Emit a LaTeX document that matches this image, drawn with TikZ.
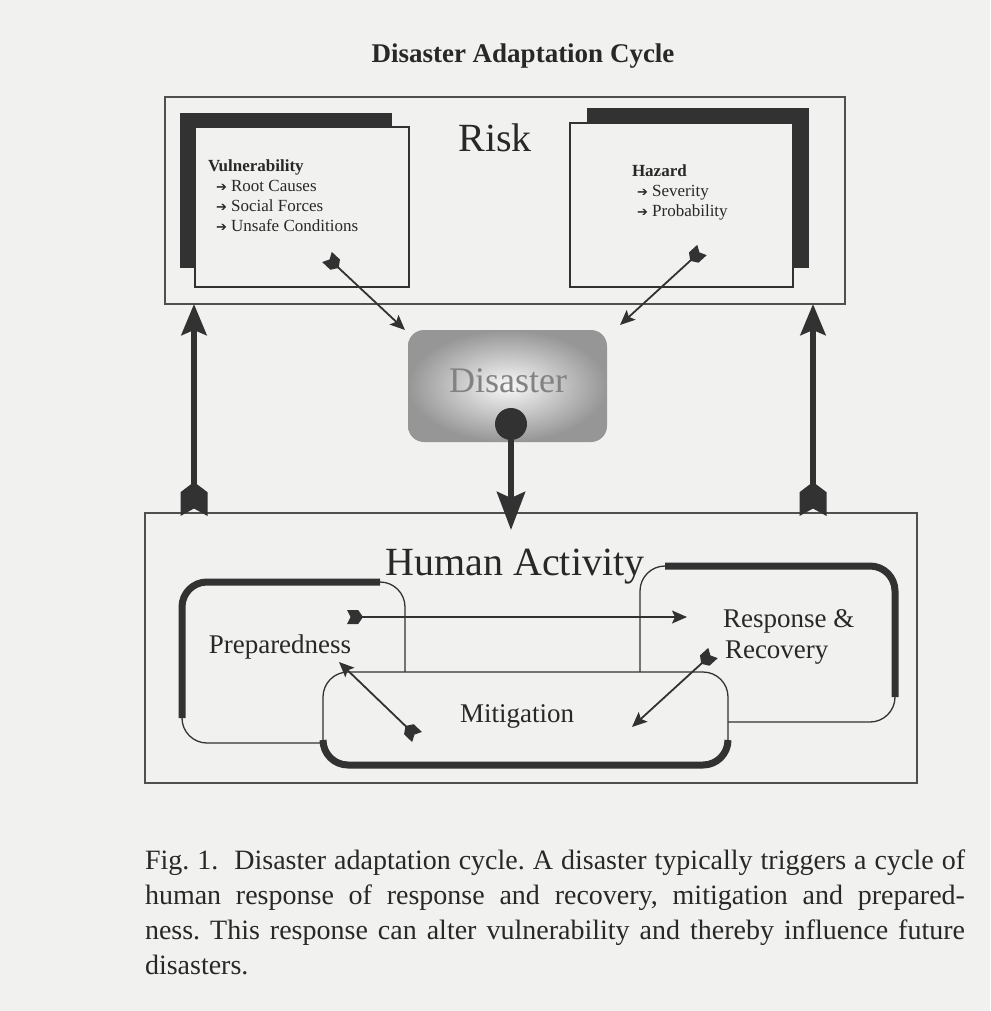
\documentclass[tikz,border=0pt]{standalone}
\usepackage{fontspec}
\setmainfont{Liberation Serif}
\newfontfamily\symfont{DejaVu Sans}
\usepackage{tikz}
\usetikzlibrary{positioning,arrows.meta,calc}
\definecolor{PaperGray}{RGB}{241,241,239}
\definecolor{InkDark}{RGB}{50,50,50}
\definecolor{InkMid}{RGB}{80,80,80}
\definecolor{InkText}{RGB}{40,40,40}
\definecolor{ShadeGray}{RGB}{150,150,150}
\definecolor{LabelGray}{RGB}{130,130,130}
\newcommand{\itemarrow}{{\symfont\fontsize{13}{13}\selectfont ➔}}

% fletched tail: notch at the outer end, point towards the line
\pgfdeclarearrow{
  name = Fletch,
  parameters = {\the\pgfarrowlength,\the\pgfarrowwidth},
  setup code = {
    \pgfarrowssettipend{0pt}
    \pgfarrowssetbackend{-\pgfarrowlength}
    \pgfarrowssetlineend{-.8\pgfarrowlength}
    \pgfarrowshullpoint{0pt}{.5\pgfarrowwidth}
    \pgfarrowshullpoint{0pt}{-.5\pgfarrowwidth}
    \pgfarrowshullpoint{-\pgfarrowlength}{0pt}
    \pgfarrowssavethe\pgfarrowlength
    \pgfarrowssavethe\pgfarrowwidth
  },
  drawing code = {
    \pgfpathmoveto{\pgfqpoint{0pt}{.5\pgfarrowwidth}}
    \pgfpathlineto{\pgfqpoint{-.7\pgfarrowlength}{.5\pgfarrowwidth}}
    \pgfpathlineto{\pgfqpoint{-\pgfarrowlength}{0pt}}
    \pgfpathlineto{\pgfqpoint{-.7\pgfarrowlength}{-.5\pgfarrowwidth}}
    \pgfpathlineto{\pgfqpoint{0pt}{-.5\pgfarrowwidth}}
    \pgfpathlineto{\pgfqpoint{-.22\pgfarrowlength}{0pt}}
    \pgfpathclose
    \pgfusepathqfill
  },
  defaults = {length=14pt, width=12pt}
}

\begin{document}
\begin{tikzpicture}[x=1pt,y=1pt,
    every node/.style={inner sep=0pt, outer sep=0pt, text=InkText},
    outerbox/.style={draw=InkMid, line width=2.5pt, fill=PaperGray, anchor=north west},
    shadowbar/.style={fill=InkDark, anchor=north west},
    card/.style={draw=InkDark, line width=1.8pt, fill=PaperGray, anchor=north west},
    cardtext/.style={align=left, anchor=north west, font=\fontsize{17}{20}\selectfont},
    roundbox/.style={draw=InkDark, line width=1.3pt, fill=PaperGray,
        rounded corners=25pt, anchor=north west},
    thickedge/.style={draw=InkDark, line width=7pt, rounded corners=25pt},
    disbox/.style={rounded corners=16pt, inner color=white!95!gray,
        outer color=ShadeGray, anchor=north west},
    big/.style={font=\fontsize{40}{40}\selectfont, anchor=base},
    mid/.style={font=\fontsize{27}{30}\selectfont},
    bigar/.style={draw=InkDark, line width=6pt,
        arrows={Fletch[length=34pt,width=27pt]-Stealth[length=31pt,width=25pt,inset=5pt]}},
    smallar/.style={draw=InkDark, line width=1.8pt,
        arrows={Fletch[length=16pt,width=14pt]-Stealth[length=15pt,width=13pt,inset=3pt]}},
  ]
  \useasboundingbox[fill=PaperGray] (0,0) rectangle (990,-1011);

  % title
  \node[font=\fontsize{27}{27}\selectfont\bfseries, anchor=base] (title) at (523,-63)
    {Disaster Adaptation Cycle};

  % RISK
  \node[outerbox, minimum width=680pt, minimum height=207pt] (risk) at (165,-97) {};
  \node[big] (risktxt) at (495,-152) {Risk};

  \node[shadowbar, minimum width=212pt, minimum height=155pt] (vshadow) at (180,-113) {};
  \node[card, minimum width=214pt, minimum height=160pt] (vuln) at (195,-127) {};
  \node[cardtext] (vtxt) at (208,-160) {\textbf{Vulnerability}\\
      \hspace*{8pt}\itemarrow\ Root Causes\\
      \hspace*{8pt}\itemarrow\ Social Forces\\
      \hspace*{8pt}\itemarrow\ Unsafe Conditions};

  \node[shadowbar, minimum width=222pt, minimum height=160pt] (hshadow) at (587,-108) {};
  \node[card, minimum width=223pt, minimum height=164pt] (haz) at (570,-123) {};
  \node[cardtext] (htxt) at (632,-165) {\textbf{Hazard}\\
      \hspace*{5pt}\itemarrow\ Severity\\
      \hspace*{5pt}\itemarrow\ Probability};

  % DISASTER
  \node[disbox, minimum width=199pt, minimum height=112pt] (dis) at (408,-330) {};
  \node[font=\fontsize{36}{36}\selectfont, text=LabelGray, anchor=base] (distxt)
    at (508,-392) {Disaster};
  \node[circle, fill=InkDark, minimum size=32pt] (dot) at (511,-424) {};

  % HUMAN ACTIVITY
  \node[outerbox, minimum width=772pt, minimum height=270pt] (ha) at (145,-513) {};
  \node[big] (hatxt) at (515,-575) {Human Activity};

  \node[roundbox, minimum width=223pt, minimum height=161pt] (prep) at (182,-582) {};
  \draw[thickedge] ([yshift=25pt]prep.south west) -- (prep.north west)
    -- ([xshift=-25pt]prep.north east);
  \node[roundbox, minimum width=255pt, minimum height=156pt] (resp) at (640,-566) {};
  \draw[thickedge] ([xshift=25pt]resp.north west) -- (resp.north east)
    -- ([yshift=25pt]resp.south east);
  \node[roundbox, minimum width=405pt, minimum height=93pt] (mit) at (323,-672) {};
  \draw[thickedge] ([yshift=25pt]mit.south west) -- (mit.south west)
    -- (mit.south east) -- ([yshift=25pt]mit.south east);

  \node[mid, anchor=base] (preptxt) at (280,-653) {Preparedness};
  \node[mid, anchor=base west] (resptxt) at (723,-627) {Response \&};
  \node[mid, anchor=base west] (recvtxt) at (725,-658) {Recovery};
  \node[mid, anchor=base] (mittxt) at (517,-722) {Mitigation};

  % connectors
  \coordinate (vtail) at (327,-257);
  \coordinate (htail) at (702,-250);
  \coordinate (ptail) at (347,-617);
  \coordinate (rhead) at (687,-617);
  \coordinate (mtail) at (417,-737);
  \coordinate (phead) at (339,-662);
  \coordinate (rtail) at (713,-653);
  \coordinate (mhead) at (632,-727);
  \coordinate (lup) at ([xshift=49pt,yshift=-3pt]ha.north west);
  \coordinate (rup) at ([xshift=668pt,yshift=-3pt]ha.north west);
  \coordinate (dhit) at ($(dot |- ha.north)+(0,-17)$);

  \draw[smallar] (vtail) -- ([xshift=-3pt]dis.north west);
  \draw[smallar] (htail) -- ([xshift=13pt,yshift=5pt]dis.north east);
  \draw[bigar] (lup) -- (lup |- risk.south);
  \draw[bigar] (rup) -- (rup |- risk.south);
  \draw[draw=InkDark, line width=6pt,
    -{Stealth[length=38pt,width=28pt,inset=6pt]}] (dot) -- (dhit);
  \foreach \a/\b in {ptail/rhead,mtail/phead,rtail/mhead}
    \draw[smallar] (\a) -- (\b);

  % caption
  \node[anchor=north west, text width=820pt, align=justify,
    font=\fontsize{28}{35}\selectfont\frenchspacing] (caption) at (145,-850)
    {Fig. 1.\ \ Disaster adaptation cycle. A disaster typically triggers a cycle of\linebreak
     human response of response and recovery, mitigation and prepared-\linebreak
     ness. This response can alter vulnerability and thereby influence future\linebreak
     disasters.};
\end{tikzpicture}
\end{document}
